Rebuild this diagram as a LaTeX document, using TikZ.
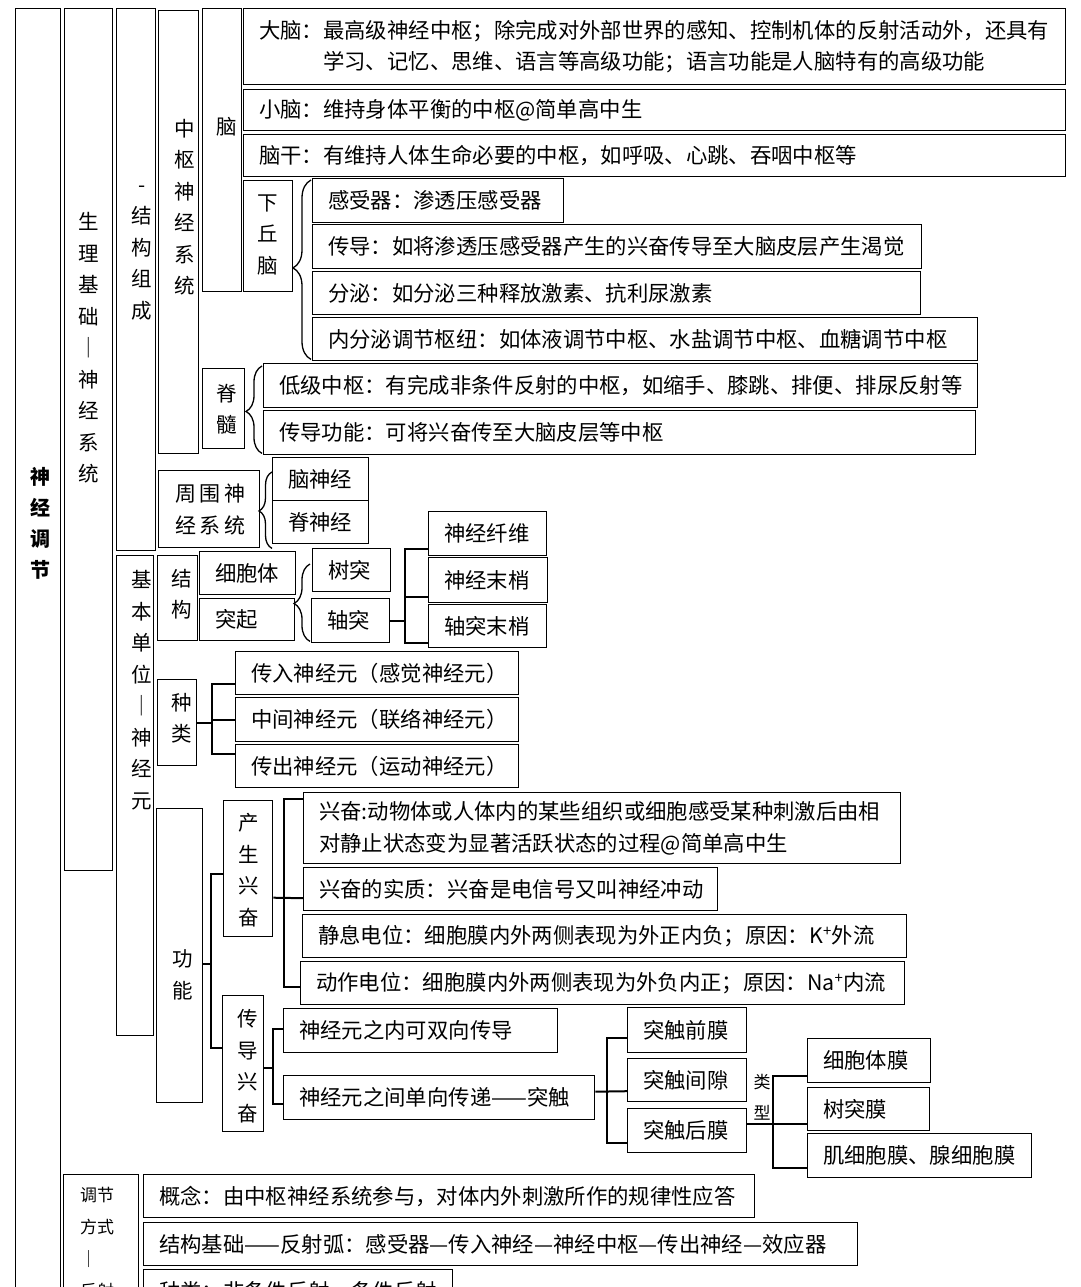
\documentclass[tikz,border=0pt]{standalone}
\usepackage{fontspec}
\setmainfont{Noto Sans CJK SC}
\usetikzlibrary{calc,decorations.pathreplacing}
\newcommand\mybox[6]{%
  \node[bx, minimum width=#4pt, minimum height=#5pt] (#1) at (#2,#3) {};
  \node[tx] (#1-t) at ([xshift=16pt]#1.west) {#6};}
\newcommand\vcol[8]{%
  \node[bx, minimum width=#4pt, minimum height=#5pt] (#1) at (#2,#3) {};
  \node[vt] (#1-t) at (#6,#7) {#8};}
\begin{document}
\begin{tikzpicture}[x=1pt,y=-1pt,
  bx/.style={draw=black, line width=1.4pt, anchor=north west, inner sep=0pt},
  tx/.style={inner sep=0pt, font=\fontsize{21.35}{31.5}\selectfont, anchor=west, align=left},
  vt/.style={inner sep=0pt, font=\fontsize{20.5}{31.5}\selectfont, align=center},
  conn/.style={line width=2pt, black},
  brc/.style={line width=1.3pt, decorate},
]
\useasboundingbox (0,0) rectangle (1080,1287);
\clip (0,0) rectangle (1080,1287);
\fill[white] (0,0) rectangle (1080,1287);

% left columns
\node[bx, minimum width=45pt, minimum height=1300pt] (A) at (15,8) {};
\node[vt, font=\fontsize{20}{31}\selectfont\bfseries] (A-t) at (40,523) {神\\经\\调\\节};
\vcol{B}{64}{8}{48}{862}{89}{348}{生\\理\\基\\础\\｜\\神\\经\\系\\统}
\vcol{C}{116}{8}{39}{542}{142}{253}{-\\结\\构\\组\\成}
\vcol{D}{116}{555}{37}{480}{142}{690}{基\\本\\单\\位\\｜\\神\\经\\元}
\vcol{E}{158}{10}{40}{443}{185}{207}{中\\枢\\神\\经\\系\\统}
\vcol{F}{202}{8}{39}{283}{227}{127}{脑}

% brain
\mybox{dn}{243}{8}{822}{76}{大脑：最高级神经中枢；除完成对外部世界的感知、控制机体的反射活动外，还具有\\\hspace*{3em}学习、记忆、思维、语言等高级功能；语言功能是人脑特有的高级功能}
\mybox{xn}{243}{89}{822}{41}{小脑：维持身体平衡的中枢@简单高中生}
\mybox{ng}{243}{134}{822}{42}{脑干：有维持人体生命必要的中枢，如呼吸、心跳、吞咽中枢等}
\vcol{xqn}{243}{180}{49}{111}{268}{235}{下\\丘\\脑}
\mybox{gsq}{312}{178}{251}{44}{感受器：渗透压感受器}
\mybox{cd}{312}{224}{609}{44}{传导：如将渗透压感受器产生的兴奋传导至大脑皮层产生渴觉}
\mybox{fm}{312}{271}{608}{43}{分泌：如分泌三种释放激素、抗利尿激素}
\mybox{nfm}{312}{317}{665}{43}{内分泌调节枢纽：如体液调节中枢、水盐调节中枢、血糖调节中枢}
\vcol{js}{202}{368}{42}{80}{227}{409}{脊\\髓}
\mybox{dj}{263}{363}{714}{44}{低级中枢：有完成非条件反射的中枢，如缩手、膝跳、排便、排尿反射等}
\mybox{cdgn}{263}{410}{712}{44}{传导功能：可将兴奋传至大脑皮层等中枢}

% peripheral
\node[bx, minimum width=101pt, minimum height=77pt] (zw) at (158,470) {};
\node[tx, font=\fontsize{21}{32}\selectfont] (zw-t) at ([xshift=17pt]zw.west) {周\,围\,神\\经\,系\,统};
\mybox{nsj}{272}{457}{96}{43}{脑神经}
\mybox{jsj}{272}{500}{96}{43}{脊神经}

% neuron structure
\vcol{jg}{157}{555}{40}{85}{182}{594}{结\\构}
\mybox{xbt}{199}{551}{96}{43}{细胞体}
\mybox{tq}{199}{598}{95}{42}{突起}
\mybox{st}{312}{548}{78}{43}{树突}
\mybox{zt}{311}{598}{78}{44}{轴突}
\mybox{sjxw}{428}{511}{118}{44}{神经纤维}
\mybox{sjmd}{428}{557}{119}{45}{神经末梢}
\mybox{ztmd}{428}{604}{118}{43}{轴突末梢}

% kinds
\vcol{zl}{157}{679}{39}{86}{182}{718}{种\\类}
\mybox{cr}{235}{651}{283}{43}{传入神经元（感觉神经元）}
\mybox{zj}{235}{697}{283}{44}{中间神经元（联络神经元）}
\mybox{cc}{235}{744}{283}{43}{传出神经元（运动神经元）}

% function
\vcol{gn}{156}{808}{46}{294}{183}{975}{功\\能}
\vcol{cs}{223}{800}{49}{136}{249}{870}{产\\生\\兴\\奋}
\mybox{xf}{303}{792}{597}{71}{兴奋:动物体或人体内的某些组织或细胞感受某种刺激后由相\\对静止状态变为显著活跃状态的过程@简单高中生}
\mybox{sz}{303}{867}{414}{43}{兴奋的实质：兴奋是电信号又叫神经冲动}
\mybox{jx}{302}{914}{604}{43}{静息电位：细胞膜内外两侧表现为外正内负；原因：K\textsuperscript{+}外流}
\mybox{dz}{300}{961}{604}{43}{动作电位：细胞膜内外两侧表现为外负内正；原因：Na\textsuperscript{+}内流}
\vcol{cdx}{222}{995}{41}{136}{248}{1066}{传\\导\\兴\\奋}
\mybox{nn}{283}{1008}{274}{44}{神经元之内可双向传导}
\mybox{nj}{283}{1075}{311}{44}{神经元之间单向传递——突触}
\mybox{qm}{627}{1007}{119}{45}{突触前膜}
\mybox{jxx}{627}{1058}{119}{43}{突触间隙}
\mybox{hm}{627}{1108}{119}{44}{突触后膜}
\node[vt, font=\fontsize{17}{31}\selectfont] (lx) at (762,1097) {类\\型};
\mybox{xbtm}{807}{1038}{123}{44}{细胞体膜}
\mybox{stm}{807}{1087}{122}{43}{树突膜}
\mybox{jxb}{807}{1133}{224}{44}{肌细胞膜、腺细胞膜}

% regulation mode
\node[bx, minimum width=75pt, minimum height=200pt] (tj) at (63,1174) {};
\node[tx, font=\fontsize{17}{32}\selectfont, anchor=north west] (tj-t) at (80,1187) {调节\\方式\\｜\\反射};
\mybox{gnn}{143}{1174}{611}{43}{概念：由中枢神经系统参与，对体内外刺激所作的规律性应答}
\mybox{jgjc}{143}{1222}{714}{43}{结构基础——反射弧：感受器—传入神经—神经中枢—传出神经—效应器}
\mybox{zll}{143}{1269}{309}{44}{种类：非条件反射、条件反射}

% braces
\draw[brc, decoration={brace, amplitude=18pt, aspect=0.51}] ($(nfm.south west)+(-1,-2)$) -- ($(gsq.north west)+(-1,2)$);
\draw[brc, decoration={brace, amplitude=16pt, aspect=0.48}] ($(cdgn.south west)+(-1,-2)$) -- ($(dj.north west)+(-1,3)$);
\draw[brc, decoration={brace, amplitude=13pt, aspect=0.49}] ($(jsj.south west)+(0,4)$) -- ($(nsj.north west)+(0,15)$);
\draw[brc, decoration={brace, amplitude=16pt, aspect=0.49}] ($(zt.south west)+(-1,-2)$) -- ($(st.north west)+(-2,16)$);

% axon tree
\draw[conn] (zt.east) -- ++(16,0);
\draw[conn] ($(sjxw.south west)+(0,-7)$) -- ++(-23,0) |- ($(ztmd.south west)+(0,-5)$);
\draw[conn] ($(sjmd.south west)+(0,-6)$) -- ++(-23,0);

% kinds tree
\draw[conn] (zl.east) -- ++(16,0);
\draw[conn] ($(cr.south west)+(0,-11)$) -- ++(-23,0) |- ($(cc.north west)+(0,10)$);
\draw[conn] (zj.west) -- ++(-23,0);

% function tree
\draw[conn] ($(gn.east)+(0,8)$) -- ++(9,0);
\draw[conn] ($(cs.west)+(0,5)$) -- ++(-12,0) |- ($(cdx.west)+(0,-16)$);

% excitation tree
\draw[conn] ($(cs.east)+(0,29)$) -- ($(sz.west)+(0,9)$);
\draw[conn] ($(xf.north west)+(0,7)$) -- ++(-19,0) |- ($(dz.west)+(0,4)$);

% conduction tree
\draw[conn] ($(cdx.east)+(0,4)$) -- ++(10,0);
\draw[conn] ($(nn.west)+(0,-2)$) -- ++(-10,0) |- ($(nj.west)+(0,6)$);

% synapse tree
\draw[conn] ($(nj.east)+(0,-6)$) -- ($(jxx.west)+(0,11)$);
\draw[conn] ($(qm.west)+(0,8)$) -- ++(-20,0) |- ($(hm.west)+(0,12)$);

% membrane types tree
\draw[conn] ($(hm.east)+(0,-7)$) -- ($(stm.west)+(0,14.5)$);
\draw[conn] ($(xbtm.west)+(0,15)$) -- ++(-34,0) |- ($(jxb.west)+(0,12)$);
\end{tikzpicture}
\end{document}
